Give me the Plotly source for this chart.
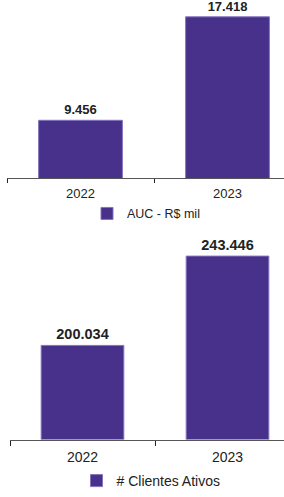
import plotly.graph_objects as go

years = ["2022", "2023"]
auc_values = [9.456, 17.418]
auc_labels = ["9.456", "17.418"]
clientes_values = [200.034, 243.446]
clientes_labels = ["200.034", "243.446"]

BAR = "#48318b"
EDGE = "#8273bd"
FONT = "Liberation Sans, Arial, sans-serif"
TXT = "#222222"

fig = go.Figure()

fig.add_trace(go.Bar(
    x=years, y=auc_values, text=auc_labels, name="AUC - R$ mil",
    width=0.57, marker=dict(color=BAR, line=dict(color=EDGE, width=1)),
    textposition="outside", cliponaxis=False,
    textfont=dict(family=FONT, size=13, color=TXT, weight="bold"),
    xaxis="x", yaxis="y", legend="legend", hoverinfo="skip",
))

fig.add_trace(go.Bar(
    x=years, y=clientes_values, text=clientes_labels, name="# Clientes Ativos",
    width=0.57, marker=dict(color=BAR, line=dict(color=EDGE, width=1)),
    textposition="outside", cliponaxis=False,
    textfont=dict(family=FONT, size=14.5, color=TXT, weight="bold"),
    xaxis="x2", yaxis="y2", legend="legend2", hoverinfo="skip",
))

H = 497.0
W = 284.0

axis_common = dict(
    type="category", showline=True, linecolor="#555555", linewidth=1,
    ticks="outside", tickson="boundaries", tickcolor="#222222", tickwidth=1,
    showgrid=False, zeroline=False, fixedrange=True,
)

fig.update_layout(
    width=284, height=497,
    margin=dict(l=0, r=0, t=0, b=0),
    paper_bgcolor="white", plot_bgcolor="white",
    font=dict(family=FONT, color=TXT),
    bargap=0.43,
    xaxis=dict(axis_common, domain=[7 / W, 1], range=[-0.5, -0.5 + 277 / 147],
               ticklen=4, ticklabelstandoff=3,
               tickfont=dict(family=FONT, size=13, color=TXT), anchor="y"),
    yaxis=dict(domain=[1 - 180 / H, 1], range=[5.0, 18.713], visible=False,
               fixedrange=True, anchor="x"),
    xaxis2=dict(axis_common, domain=[10 / W, 1], range=[-0.5, -0.5 + 274 / 145],
                ticklen=5, ticklabelstandoff=5,
                tickfont=dict(family=FONT, size=14, color=TXT), anchor="y2"),
    yaxis2=dict(domain=[1 - 444 / H, 1 - 230 / H], range=[154.3, 257.25],
                visible=False, fixedrange=True, anchor="x2"),
    legend=dict(orientation="h", x=146 / W, xanchor="center",
                y=1 - 216 / H, yanchor="middle",
                font=dict(family=FONT, size=12.5, color=TXT),
                bgcolor="rgba(0,0,0,0)"),
    legend2=dict(orientation="h", x=151 / W, xanchor="center",
                 y=1 - 486 / H, yanchor="middle",
                 font=dict(family=FONT, size=14, color=TXT),
                 bgcolor="rgba(0,0,0,0)"),
    showlegend=True,
)

fig.write_html("out.html", config={"displayModeBar": False},
               post_script="document.body.style.margin='0px';document.body.style.overflow='hidden';")
